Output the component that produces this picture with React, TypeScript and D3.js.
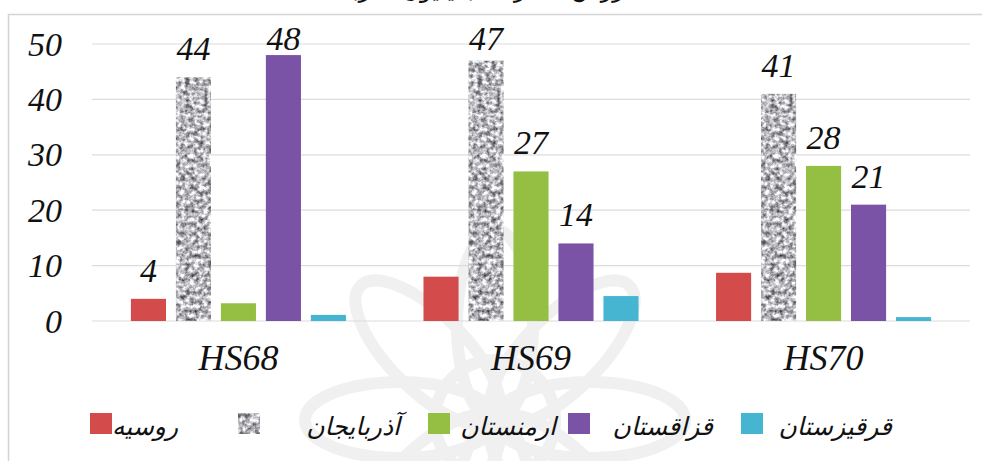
import React from "react";
import * as d3 from "d3";

const categories = ["HS68", "HS69", "HS70"];
const seriesNames = ["روسیه", "آذربایجان", "ارمنستان", "قزاقستان", "قرقیزستان"];
const russia = [4, 8, 8.7];
const azerbaijan = [44, 47, 41];
const armenia = [3.2, 27, 28];
const kazakhstan = [48, 14, 21];
const kyrgyzstan = [1.1, 4.5, 0.7];
const labelShown = [
  [true, false, false],
  [true, true, true],
  [false, true, true],
  [true, true, true],
  [false, false, false],
];
const yTicks = [0, 10, 20, 30, 40, 50];
const title = "ارزش صادرات (میلیون دلار)";

const W = 982;
const H = 461;
const seriesValues = [russia, azerbaijan, armenia, kazakhstan, kyrgyzstan];
const fills = ["#d44b4c", "#b0b0b0", "#95bf43", "#7a52a6", "#46b5d1"];
const legendSwatchX = [90, 238, 428, 568, 741];
const legendTextEnd = [178, 400, 556, 713, 892];

export default function App() {
  const x0 = d3.scaleBand<string>().domain(categories).range([92, 970]).paddingInner(0.265).paddingOuter(0.133);
  const x1 = d3.scaleBand<number>().domain(d3.range(seriesNames.length)).range([0, x0.bandwidth()]).paddingInner(0.22).paddingOuter(0);
  const y = d3.scaleLinear().domain([0, 50]).range([321, 44]);
  const serif = "'Liberation Serif', 'Times New Roman', serif";
  const fa = "'DejaVu Sans', sans-serif";

  const petals = d3.range(8).map((i) => i * 45);

  return (
    <svg width={W} height={H} style={{ position: "absolute", left: 0, top: 0, background: "#fff" }}>
      <defs>
        <filter id="granite" x="0" y="0" width="1" height="1" colorInterpolationFilters="sRGB">
          <feTurbulence type="fractalNoise" baseFrequency="0.22" numOctaves={3} seed={11} result="n" />
          <feColorMatrix in="n" type="matrix" values="1.3 0 0 0 0.07  1.3 0 0 0 0.07  1.3 0 0 0 0.09  0 0 0 0 1" result="g" />
          <feComposite in="g" in2="SourceGraphic" operator="in" />
        </filter>
      </defs>
      <rect x={0} y={0} width={W} height={H} fill="#fff" />
      <text x={490} y={-3} textAnchor="middle" fontFamily={fa} fontSize={24} fill="#111">{title}</text>
      <rect x={8.5} y={14.5} width={W} height={H} fill="none" stroke="#d4d4d4" strokeWidth={1.5} />

      {/* watermark */}
      <g transform="translate(495,420)" fill="none" stroke="#f0f0f0" strokeWidth={12}>
        {petals.map((a) => (
          <ellipse key={a} cx={0} cy={-95} rx={38} ry={95} transform={`rotate(${a})`} />
        ))}
        <circle r={60} />
      </g>

      {yTicks.map((t) => (
        <g key={t}>
          <line x1={92} x2={970} y1={y(t)} y2={y(t)} stroke="#dcdcdc" strokeWidth={1.2} />
          <text x={62} y={y(t)} dy="0.34em" textAnchor="end" fontFamily={serif} fontStyle="italic" fontSize={34} fill="#111">{t}</text>
        </g>
      ))}

      {categories.map((c, ci) => (
        <g key={c} transform={`translate(${x0(c)},0)`}>
          {seriesValues.map((vals, si) => (
            <rect key={si} x={x1(si)} y={y(vals[ci])} width={x1.bandwidth()} height={y(0) - y(vals[ci])}
              fill={fills[si]} filter={si === 1 ? "url(#granite)" : undefined} />
          ))}
          {seriesValues.map((vals, si) =>
            labelShown[si][ci] ? (
              <text key={"l" + si} x={(x1(si) as number) + x1.bandwidth() / 2} y={Math.max(y(vals[ci]) - 17, 50)}
                textAnchor="middle" fontFamily={serif} fontStyle="italic" fontSize={34} fill="#111">{vals[ci]}</text>
            ) : null
          )}
          <text x={x0.bandwidth() / 2} y={370} textAnchor="middle" fontFamily={serif} fontStyle="italic" fontSize={36} fill="#111">{c}</text>
        </g>
      ))}

      {seriesNames.map((n, i) => (
        <g key={n}>
          <rect x={legendSwatchX[i]} y={413} width={22} height={21} fill={fills[i]} filter={i === 1 ? "url(#granite)" : undefined} />
          <text x={legendTextEnd[i]} y={426} dy="0.35em" textAnchor="end" fontFamily={fa} fontStyle="italic" fontSize={25} fill="#111">{n}</text>
        </g>
      ))}
    </svg>
  );
}
